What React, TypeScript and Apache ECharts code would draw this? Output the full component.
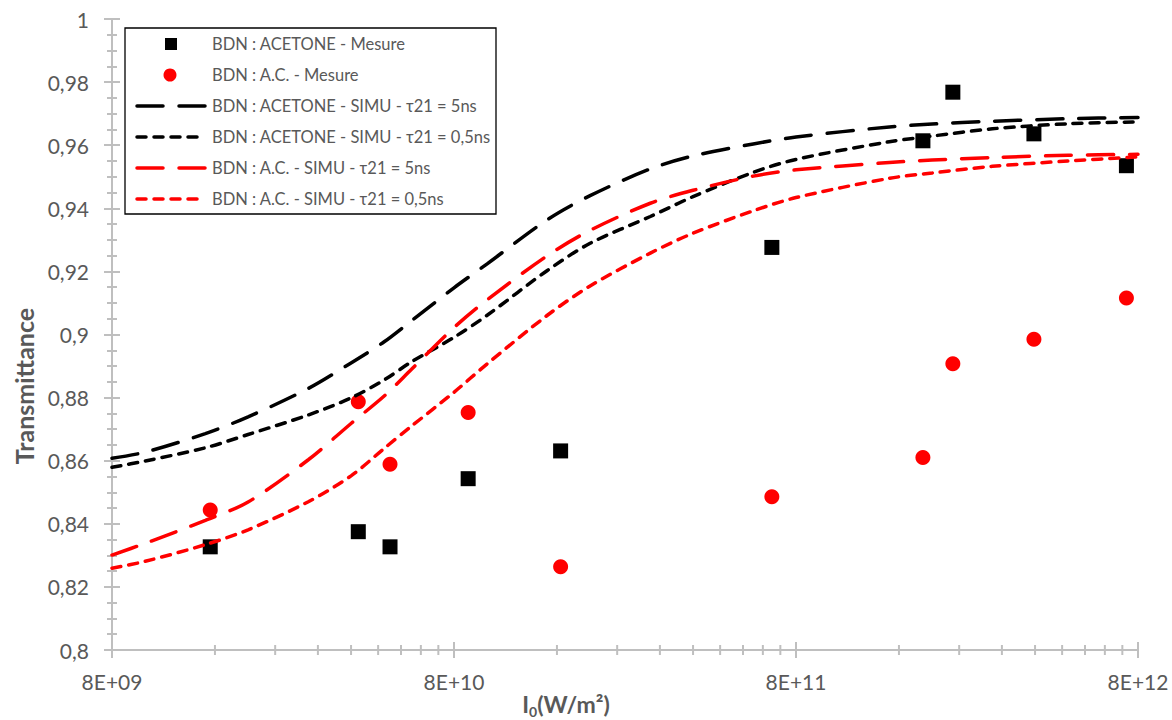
import React, { useEffect, useRef } from "react";
import * as echarts from "echarts";

// Measured points (intensity in W/m², transmittance)
const measureI = [1.55e10, 4.2e10, 5.2e10, 8.8e10, 1.64e11, 6.8e11, 1.88e12, 2.3e12, 3.97e12, 7.4e12];
const acetoneMeasure = [0.8327, 0.8375, 0.8327, 0.8543, 0.8631, 0.9276, 0.9614, 0.9768, 0.9636, 0.9535];
const acMeasure = [0.8444, 0.8787, 0.8589, 0.8753, 0.8264, 0.8486, 0.861, 0.8907, 0.8985, 0.9116];

// Simulation curves
const simI = [8e9, 1e10, 1.5e10, 2e10, 3e10, 4e10, 5e10, 6e10, 8e10, 1e11, 1.5e11, 2e11, 3e11, 4e11, 6e11, 8e11, 1.5e12, 2e12, 3e12, 5e12, 8e12];
const acetone5ns = [0.8608, 0.8627, 0.8686, 0.8739, 0.8829, 0.891, 0.8977, 0.9043, 0.9148, 0.9224, 0.9364, 0.944, 0.9525, 0.9566, 0.9604, 0.9626, 0.9658, 0.9667, 0.9676, 0.9684, 0.9688];
const acetone05ns = [0.8579, 0.8599, 0.8641, 0.8683, 0.8745, 0.8799, 0.8856, 0.8913, 0.8991, 0.9061, 0.9203, 0.9289, 0.9374, 0.9437, 0.9514, 0.9555, 0.9611, 0.9629, 0.9652, 0.9668, 0.9674];
const ac5ns = [0.8301, 0.8338, 0.8411, 0.8469, 0.8603, 0.8718, 0.8805, 0.8889, 0.9022, 0.911, 0.925, 0.933, 0.9416, 0.9457, 0.9502, 0.9522, 0.9545, 0.9553, 0.9561, 0.9568, 0.9571];
const ac05ns = [0.8259, 0.8281, 0.8334, 0.8381, 0.847, 0.8552, 0.8639, 0.8709, 0.8817, 0.8907, 0.9061, 0.9154, 0.9258, 0.9321, 0.9392, 0.9434, 0.9495, 0.9512, 0.9533, 0.955, 0.9563];

const seriesNames = [
  "BDN : ACETONE - Mesure",
  "BDN : A.C. - Mesure",
  "BDN : ACETONE - SIMU - τ21 = 5ns",
  "BDN : ACETONE - SIMU - τ21 = 0,5ns",
  "BDN : A.C. - SIMU - τ21 = 5ns",
  "BDN : A.C. - SIMU - τ21 = 0,5ns",
];

// Axis: log scale from 8E+09 to 8E+12
const xBase = 8e9;
const decadeExponents = [9, 10, 11, 12];
const minorMultipliers = [2, 3, 4, 5, 6, 7, 8, 9];
const yMin = 0.8;
const yMax = 1;
const yStep = 0.02;

const lx = (v: number) => Math.log10(v / xBase);

const FONT = "Lato, 'Open Sans', sans-serif";
const GREY = "#595959";
const AXIS = "#bfbfbf";
const LONG_DASH = [26, 16];
const SHORT_DASH = [9, 8];

export default function App() {
  const ref = useRef<HTMLDivElement>(null);
  useEffect(() => {
    if (!ref.current) return;
    const chart = echarts.init(ref.current, undefined, { renderer: "svg" });

    const tickData: number[][] = [];
    decadeExponents.forEach((e, i) => {
      const base = 8 * Math.pow(10, e);
      tickData.push([lx(base), yMin, 1]);
      if (i < decadeExponents.length - 1) {
        minorMultipliers.forEach((m) => tickData.push([lx(base * m), yMin, 0]));
      }
    });

    const lineSeries = (name: string, vals: number[], color: string, dash: number[]) => ({
      name,
      type: "line",
      data: simI.map((v, i) => [lx(v), vals[i]]),
      symbol: "none",
      smooth: 0.3,
      lineStyle: { color, width: 3.5, type: dash, cap: "round" },
      itemStyle: { color },
      z: 3,
    });

    const yAxisBase = {
      type: "value",
      min: yMin,
      max: yMax,
      interval: yStep,
      position: "left",
      splitLine: { show: false },
    };

    // Legend drawn as graphic elements
    const legendLeft = 125;
    const legendTop = 28;
    const rowY0 = 44;
    const rowPitch = 31;
    const legendKinds = [
      { kind: "square", color: "#000000" },
      { kind: "circle", color: "#ff0000" },
      { kind: "line", color: "#000000", dash: LONG_DASH },
      { kind: "line", color: "#000000", dash: SHORT_DASH },
      { kind: "line", color: "#ff0000", dash: LONG_DASH },
      { kind: "line", color: "#ff0000", dash: SHORT_DASH },
    ];
    const legendEls: any[] = [
      {
        type: "rect",
        shape: { x: legendLeft, y: legendTop, width: 371, height: 186 },
        style: { fill: "#ffffff", stroke: "#000000", lineWidth: 1.3 },
        z: 10,
      },
    ];
    legendKinds.forEach((k: any, i) => {
      const cy = rowY0 + i * rowPitch;
      if (k.kind === "square") {
        legendEls.push({ type: "rect", shape: { x: 165, y: cy - 6, width: 12, height: 12 }, style: { fill: k.color }, z: 11 });
      } else if (k.kind === "circle") {
        legendEls.push({ type: "circle", shape: { cx: 170, cy, r: 6.5 }, style: { fill: k.color }, z: 11 });
      } else {
        legendEls.push({
          type: "line",
          shape: { x1: 137, y1: cy, x2: 205, y2: cy },
          style: { stroke: k.color, lineWidth: 3.5, lineDash: k.dash, lineCap: "round" },
          z: 11,
        });
      }
      legendEls.push({
        type: "text",
        x: 212,
        y: cy,
        style: { text: seriesNames[i], fill: GREY, font: `16.5px ${FONT}`, verticalAlign: "middle", align: "left" },
        z: 11,
      });
    });

    chart.setOption({
      animation: false,
      backgroundColor: "#ffffff",
      grid: { left: 112, right: 34, top: 19, bottom: 70 },
      xAxis: {
        type: "value",
        min: 0,
        max: 3,
        interval: 1,
        splitLine: { show: false },
        axisLine: { lineStyle: { color: AXIS, width: 2 } },
        axisTick: { show: false },
        axisLabel: {
          color: GREY,
          fontFamily: FONT,
          fontSize: 21,
          margin: 21,
          formatter: (v: number) => "8E+" + String(9 + Math.round(v)).padStart(2, "0"),
        },
      },
      yAxis: [
        {
          ...yAxisBase,
          axisLine: { show: true, lineStyle: { color: AXIS, width: 2 } },
          axisTick: { show: true, inside: false, length: 8, lineStyle: { color: AXIS, width: 2 } },
          minorTick: { show: true, splitNumber: 4, length: 5, lineStyle: { color: AXIS, width: 2 } },
          axisLabel: {
            color: GREY,
            fontFamily: FONT,
            fontSize: 21,
            margin: 23,
            formatter: (v: number) => String(parseFloat(v.toFixed(3))).replace(".", ","),
          },
        },
        {
          ...yAxisBase,
          axisLine: { show: false },
          axisTick: { show: true, inside: true, length: 8, lineStyle: { color: AXIS, width: 2 } },
          minorTick: { show: true, splitNumber: 4, length: 5, lineStyle: { color: AXIS, width: 2 } },
          axisLabel: { show: false },
        },
      ],
      graphic: [
        {
          type: "text",
          x: 24,
          y: 386,
          rotation: Math.PI / 2,
          style: {
            text: "Transmittance",
            fill: GREY,
            font: `bold 25px ${FONT}`,
            align: "center",
            verticalAlign: "middle",
          },
        },
        {
          type: "text",
          x: 566,
          y: 692,
          style: {
            text: "{a|I}{b|0}{a|(W/m²)}",
            align: "center",
            verticalAlign: "top",
            rich: {
              a: { fill: GREY, fontFamily: FONT, fontWeight: "bold", fontSize: 23, verticalAlign: "top", lineHeight: 24 },
              b: { fill: GREY, fontFamily: FONT, fontWeight: "bold", fontSize: 14, verticalAlign: "top", lineHeight: 14, padding: [12, 0, 0, 0] },
            },
          },
        },
        ...legendEls,
      ],
      series: [
        {
          name: seriesNames[0],
          type: "scatter",
          symbol: "rect",
          symbolSize: 15,
          itemStyle: { color: "#000000", opacity: 1 },
          data: measureI.map((v, i) => [lx(v), acetoneMeasure[i]]),
          z: 2,
        },
        {
          name: seriesNames[1],
          type: "scatter",
          symbol: "circle",
          symbolSize: 15,
          itemStyle: { color: "#ff0000", opacity: 1 },
          data: measureI.map((v, i) => [lx(v), acMeasure[i]]),
          z: 2,
        },
        lineSeries(seriesNames[2], acetone5ns, "#000000", LONG_DASH),
        lineSeries(seriesNames[3], acetone05ns, "#000000", SHORT_DASH),
        lineSeries(seriesNames[4], ac5ns, "#ff0000", LONG_DASH),
        lineSeries(seriesNames[5], ac05ns, "#ff0000", SHORT_DASH),
        {
          name: "xticks",
          type: "custom",
          clip: false,
          silent: true,
          data: tickData,
          encode: { x: 0, y: 1 },
          z: 1,
          renderItem: (params: any, api: any) => {
            const p = api.coord([api.value(0), api.value(1)]);
            const half = api.value(2) ? 8 : 5;
            return {
              type: "line",
              shape: { x1: p[0], y1: p[1] - half, x2: p[0], y2: p[1] + half },
              style: { stroke: AXIS, lineWidth: 2 },
            };
          },
        },
      ],
    });

    return () => chart.dispose();
  }, []);

  return (
    <div
      ref={ref}
      style={{ position: "fixed", left: 0, top: 0, width: 1172, height: 720, background: "#fff" }}
    />
  );
}
